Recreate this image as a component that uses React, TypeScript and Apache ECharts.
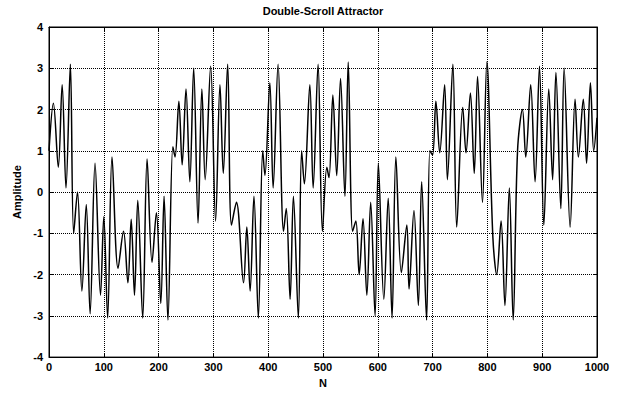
import React, { useEffect, useRef } from "react";
import * as echarts from "echarts";

// Sample index (N) of the read-off turning points of the trace
const sampleN = [
  0, 8, 17, 24, 31, 39, 45, 52, 60, 68, 75, 84, 94, 100, 107, 115, 126, 136, 144, 150,
  156, 162, 171, 179, 188, 196, 204, 210, 217, 226, 230, 237, 243, 250, 257, 264, 272, 279, 285, 295,
  304, 312, 318, 326, 333, 342, 355, 361, 367, 374, 382, 390, 394, 403, 409, 418, 428, 433, 440, 446,
  455, 461, 466, 476, 482, 491, 499, 507, 511, 518, 525, 532, 540, 546, 554, 560, 566, 573, 580, 587,
  595, 601, 611, 619, 626, 633, 643, 653, 657, 666, 674, 680, 689, 695, 700, 706, 713, 722, 727, 737,
  744, 755, 761, 769, 776, 782, 791, 799, 810, 817, 825, 832, 840, 847, 855, 864, 870, 879, 887, 895,
  903, 912, 919, 925, 934, 940, 951, 960, 966, 975, 981, 988, 994, 1000,
];

// Amplitude at those samples
const amplitude = [
  1.0, 2.15, 0.6, 2.6, 0.1, 3.1, -1.0, 0.0, -2.4, -0.3, -2.95, 0.7, -2.5, -0.6, -3.05, 0.85, -1.85, -0.95, -2.2, -0.66,
  -2.5, -0.2, -3.05, 0.8, -1.7, -0.5, -2.7, -0.1, -3.1, 1.1, 0.85, 2.2, 0.66, 2.5, 0.25, 3.0, -0.75, 2.5, 0.3, 3.05,
  -0.7, 2.6, 0.45, 3.1, -0.8, -0.25, -2.2, -0.85, -2.4, -0.1, -3.05, 1.0, 0.4, 2.65, 0.1, 3.1, -0.95, -0.4, -2.6, -0.1,
  -3.05, 1.0, 0.2, 2.6, 0.1, 3.1, -0.95, 0.6, 0.35, 2.35, 0.4, 2.75, -0.1, 3.15, -0.95, -0.7, -2.0, -0.65, -2.5, -0.25,
  -3.0, 0.7, -2.6, -0.15, -3.05, 0.85, -1.95, -0.8, -2.35, -0.45, -2.75, 0.25, -3.1, 1.0, 0.9, 2.2, 0.95, 2.6, 0.3, 3.1,
  -0.85, 2.05, 0.95, 2.4, 0.45, 2.8, -0.25, 3.15, -1.1, -2.0, -0.7, -2.75, 0.1, -3.1, 1.0, 2.0, 0.85, 2.6, 0.25, 3.05,
  -0.8, 2.5, 0.3, 2.9, -0.4, 3.0, -0.85, 2.25, 0.85, 2.25, 0.7, 2.65, 1.0, 1.8,
];

const xTicks = { min: 0, max: 1000, interval: 100 };
const yTicks = { min: -4, max: 4, interval: 1 };

const titleText = "Double-Scroll Attractor";
const xName = "N";
const yName = "Amplitude";

export default function App() {
  const ref = useRef<HTMLDivElement>(null);
  useEffect(() => {
    if (!ref.current) return;
    const chart = echarts.init(ref.current, null, { renderer: "svg" });
    const font = "'Liberation Sans', Arial, sans-serif";
    const labelStyle = { color: "#000", fontFamily: font, fontSize: 11, fontWeight: "bold" as const };
    const grid = { color: "#000", type: "dotted" as const, width: 1 };
    const fmt = (v: number) => String(v);
    chart.setOption({
      animation: false,
      backgroundColor: "#fff",
      grid: { left: 49, right: 24, top: 25, bottom: 26, show: true, borderColor: "#000", borderWidth: 1 },
      xAxis: [
        {
          type: "value",
          position: "bottom",
          ...xTicks,
          name: xName,
          nameLocation: "middle",
          nameGap: 17,
          nameTextStyle: labelStyle,
          axisLine: { show: true, onZero: false, lineStyle: { color: "#000" } },
          axisTick: { show: true, inside: true, length: 4, lineStyle: { color: "#000" } },
          axisLabel: { ...labelStyle, margin: 4, formatter: fmt },
          splitLine: { show: true, lineStyle: grid },
        },
        {
          type: "value",
          position: "top",
          ...xTicks,
          name: titleText,
          nameLocation: "middle",
          nameGap: 11,
          nameTextStyle: { ...labelStyle, fontSize: 11 },
          axisLine: { show: true, onZero: false, lineStyle: { color: "#000" } },
          axisTick: { show: true, inside: true, length: 4, lineStyle: { color: "#000" } },
          axisLabel: { show: false },
          splitLine: { show: false },
        },
      ],
      yAxis: [
        {
          type: "value",
          position: "left",
          ...yTicks,
          name: yName,
          nameLocation: "middle",
          nameGap: 26,
          nameTextStyle: labelStyle,
          axisLine: { show: true, onZero: false, lineStyle: { color: "#000" } },
          axisTick: { show: true, inside: true, length: 4, lineStyle: { color: "#000" } },
          axisLabel: { ...labelStyle, margin: 6, formatter: fmt },
          splitLine: { show: true, lineStyle: grid },
        },
        {
          type: "value",
          position: "right",
          ...yTicks,
          axisLine: { show: true, onZero: false, lineStyle: { color: "#000" } },
          axisTick: { show: true, inside: true, length: 4, lineStyle: { color: "#000" } },
          axisLabel: { show: false },
          splitLine: { show: false },
        },
      ],
      series: [
        {
          type: "line",
          data: sampleN.map((n, i) => [n, amplitude[i]]),
          showSymbol: false,
          smooth: 0.35,
          lineStyle: { color: "#000", width: 1.5 },
          silent: true,
        },
      ],
    });
    return () => chart.dispose();
  }, []);
  return (
    <div
      ref={ref}
      style={{ position: "fixed", left: 0, top: 0, width: 621, height: 393, background: "#fff" }}
    />
  );
}
